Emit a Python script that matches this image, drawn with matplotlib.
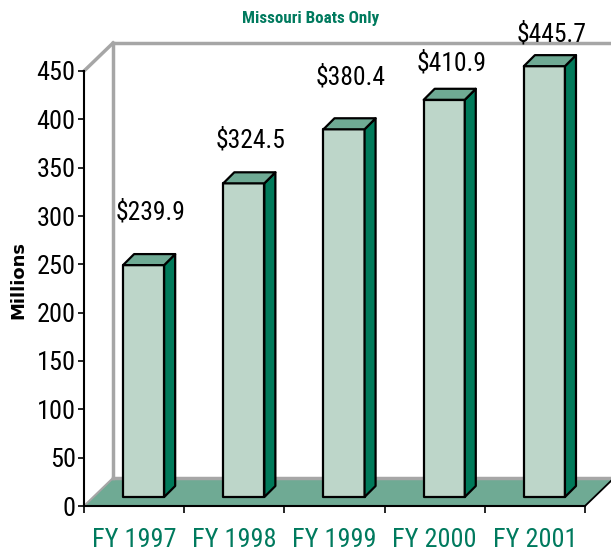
import os
import matplotlib
matplotlib.use("Agg")
import matplotlib.pyplot as plt
from matplotlib import font_manager
from matplotlib.font_manager import FontProperties
from matplotlib.patches import Polygon

# data
years = ["FY 1997", "FY 1998", "FY 1999", "FY 2000", "FY 2001"]
values = [239.9, 324.5, 380.4, 410.9, 445.7]
value_labels = ["$239.9", "$324.5", "$380.4", "$410.9", "$445.7"]
yticks = [0, 50, 100, 150, 200, 250, 300, 350, 400, 450]

# layout / style
label_gap = [56, 46, 56, 40, 35]   # baseline of value label above the bar value
DX, DY = 0.29, 29.0                # depth of the floor / back wall
BX, BY = 0.09, 9.3                 # where bars stand on the floor
SX, SY = 0.11, 11.4                # depth of a bar
BAR_L, BAR_W = 0.30, 0.41

front_c = "#BDD6C9"
top_c = "#6FAA94"
side_c = "#007A5A"
floor_c = "#6FAA94"
green_txt = "#007A5E"
wall_c = "#A6A6A6"


def narrow_font(bold=False):
    # look for an installed narrow / condensed face, like Arial Narrow in the original
    prefs = ["liberation sans narrow", "arial narrow", "arimo", "roboto condensed",
             "dejavu sans condensed", "dejavusanscondensed", "noto sans", "open sans"]
    found = []
    for f in font_manager.fontManager.ttflist:
        base = os.path.basename(f.fname).lower()
        key = (f.name + " " + base).lower()
        if not ("narrow" in key or "condensed" in key):
            continue
        if any(w in base for w in ["italic", "oblique", "semi", "extra", "ultra",
                                   "light", "thin", "medium", "black", "heavy"]):
            continue
        if ("bold" in base) != bold:
            continue
        rank = len(prefs)
        for k, p in enumerate(prefs):
            if p in key:
                rank = k
                break
        found.append((rank, f.fname))
    if found:
        found.sort()
        return FontProperties(fname=found[0][1])
    return FontProperties(family="DejaVu Sans", weight="bold" if bold else "normal")


def fit_width(texts, target_px, renderer):
    # scale the font so the first text gets the width measured on the reference
    w = texts[0].get_window_extent(renderer).width
    size = texts[0].get_fontsize() * target_px / w
    for t in texts:
        t.set_fontsize(size)


fig = plt.figure(figsize=(6.11, 5.57), dpi=100)
ax = fig.add_axes([84 / 611, 51 / 557, 501 / 611, 435 / 557])
ax.set_xlim(0, 5)
ax.set_ylim(0, 450)

reg = narrow_font()
bold = narrow_font(bold=True)

# floor
ax.add_patch(Polygon([(0, 0), (5, 0), (5 + DX, DY), (DX, DY)], closed=True,
                     facecolor=floor_c, edgecolor="none", clip_on=False, zorder=1))
ax.plot([0, DX], [0, DY], color=wall_c, lw=1.5, clip_on=False, zorder=1.5)
ax.plot([5, 5 + DX], [0, DY], color="black", lw=1.3, clip_on=False, zorder=1.5)

# back wall outline
top = 450 + DY
ax.plot([DX, DX], [DY, top], color=wall_c, lw=2.5, clip_on=False, zorder=1.2)
ax.plot([DX, 5.5], [top, top], color=wall_c, lw=2.5, clip_on=False, zorder=1.2)
ax.plot([0, DX], [450, top], color=wall_c, lw=2.5, clip_on=False, zorder=1.2)
ax.plot([DX, 5.5], [DY, DY], color=wall_c, lw=2.5, clip_on=False, zorder=1.1)

# bars
val_texts = []
for i, v in enumerate(values):
    x0 = i + BAR_L + BX
    x1 = x0 + BAR_W
    y0 = BY
    y1 = BY + v
    kw = dict(closed=True, edgecolor="black", lw=1.6, joinstyle="round",
              clip_on=False, zorder=3)
    ax.add_patch(Polygon([(x0, y0), (x1, y0), (x1, y1), (x0, y1)],
                         facecolor=front_c, **kw))
    ax.add_patch(Polygon([(x1, y0), (x1 + SX, y0 + SY), (x1 + SX, y1 + SY), (x1, y1)],
                         facecolor=side_c, **kw))
    ax.add_patch(Polygon([(x0, y1), (x1, y1), (x1 + SX, y1 + SY), (x0 + SX, y1 + SY)],
                         facecolor=top_c, **kw))
    t = ax.text(i + 0.665, v + label_gap[i], value_labels[i], ha="center", va="baseline",
                fontproperties=reg, fontsize=19, color="black", zorder=4)
    val_texts.append(t)

# axes styling
for s in ["top", "right"]:
    ax.spines[s].set_visible(False)
ax.spines["left"].set_linewidth(1.5)
ax.spines["bottom"].set_linewidth(1.5)
ax.spines["left"].set_zorder(5)
ax.spines["bottom"].set_zorder(5)
ax.patch.set_visible(False)

ax.set_yticks(yticks)
ylabels = ax.set_yticklabels([str(t) for t in yticks], fontproperties=reg, fontsize=18)
ax.tick_params(axis="y", length=4, width=1.2, pad=2)

ax.set_xticks(range(len(years) + 1))
ax.set_xticklabels([])
ax.tick_params(axis="x", which="major", length=5, width=1.2)
ax.set_xticks([i + 0.5 for i in range(len(years))], minor=True)
xlabels = ax.set_xticklabels(years, minor=True, fontproperties=reg, fontsize=20,
                             color=green_txt)
ax.tick_params(axis="x", which="minor", length=0, pad=16)

title = fig.text(311 / 611, 1 - 23 / 557, "Missouri Boats Only", ha="center",
                 va="baseline", fontproperties=bold, fontsize=13, color=green_txt)
ylab = fig.text(18 / 611, 1 - 280 / 557, "Millions", rotation=90, ha="center",
                va="center", family="DejaVu Sans", fontweight="bold", fontsize=12,
                color="black")

fig.canvas.draw()
r = fig.canvas.get_renderer()
fit_width(val_texts[4:] + val_texts[:4], 70, r)
fit_width(list(ylabels[-1:]) + list(ylabels[:-1]), 39, r)
fit_width(list(xlabels), 84, r)
fit_width([title], 136, r)
h = ylab.get_window_extent(r).height
ylab.set_fontsize(min(ylab.get_fontsize() * 90 / h, 13))

fig.savefig("out.png", dpi=100)
